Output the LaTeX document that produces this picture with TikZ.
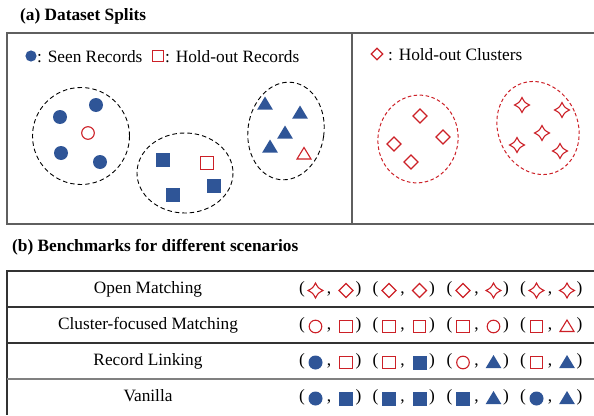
\documentclass[tikz,border=0pt]{standalone}
\usepackage{fontspec}
\setmainfont{Liberation Serif}
\definecolor{myblue}{RGB}{47,85,151}
\definecolor{myred}{RGB}{204,32,39}
\definecolor{framegray}{RGB}{95,95,95}
\tikzset{
  txt/.style={inner sep=0pt, font=\fontsize{17.3}{20}\selectfont},
  ttl/.style={inner sep=0pt, font=\fontsize{17.3}{20}\selectfont\bfseries},
  frame/.style={draw=framegray, line width=1.3pt},
  tline/.style={draw=black!80, line width=1.1pt},
  tline2/.style={draw=black!50, line width=1.8pt},
  bdash/.style={draw=black, line width=0.9pt, dash pattern=on 4.5pt off 3pt},
  rdash/.style={draw=myred, line width=1pt, dash pattern=on 3.5pt off 2.5pt},
  bcirc/.pic={\fill[myblue] (0,0) circle (7);},
  rcirc/.pic={\draw[myred, line width=1.1pt] (0,0) circle (6.3);},
  bsq/.pic={\fill[myblue] (-7,-7) rectangle (7,7);},
  rsq/.pic={\draw[myred, line width=1.1pt] (-6.3,-6.3) rectangle (6.3,6.3);},
  btri/.pic={\fill[myblue] (0,-7.5) -- (7.8,5.5) -- (-7.8,5.5) -- cycle;},
  rtri/.pic={\draw[myred, line width=1.1pt, line join=miter] (0,-6.5) -- (7,5) -- (-7,5) -- cycle;},
  rdia/.pic={\draw[myred, line width=1.1pt] (0,-7) -- (7,0) -- (0,7) -- (-7,0) -- cycle;},
  rstar/.pic={\draw[myred, line width=1.1pt, line join=miter] (0,-7.5) .. controls (2.6,-2.6) .. (7.5,0) .. controls (2.6,2.6) .. (0,7.5) .. controls (-2.6,2.6) .. (-7.5,0) .. controls (-2.6,-2.6) .. (0,-7.5) -- cycle;},
}
\newcommand\grp[4]{%
  \node[txt, anchor=base] (po-#1-#2) at (#1, #2+4.5) {(};
  \pic at (#1+13.5, #2+1.5) {#3};
  \node[txt, anchor=base] (cm-#1-#2) at (#1+27, #2+4.5) {,};
  \pic at (#1+44, #2+1.5) {#4};
  \node[txt, anchor=base] (pc-#1-#2) at (#1+56.5, #2+4.5) {)};
}
\begin{document}
\begin{tikzpicture}[x=1pt, y=-1pt]
\useasboundingbox (0,0) rectangle (594,415);
% titles
\node[ttl, anchor=base west] (ta) at (20,20) {(a) Dataset Splits};
\node[ttl, anchor=base west] (tb) at (12,251) {(b) Benchmarks for different scenarios};
% panel (a) frame
\draw[frame] (594,33) -- (7,33) -- (7,224) -- (594,224);
\draw[frame] (352,33) -- (352,224);
% legends
\pic[scale=0.8] at (31,56) {bcirc};
\node[txt, anchor=base west] (lg1) at (37,62) {: Seen Records};
\pic[scale=0.82] at (158,56) {rsq};
\node[txt, anchor=base west] (lg2) at (165,62) {: Hold-out Records};
\pic[scale=0.82] at (377,54) {rdia};
\node[txt, anchor=base west] (lg3) at (388,60) {: Hold-out Clusters};
% cluster 1
\draw[bdash] (81,136) ellipse (48.5 and 48.5);
\pic at (60,117) {bcirc};
\pic at (96,105) {bcirc};
\pic at (61,153) {bcirc};
\pic at (100,162) {bcirc};
\pic at (88,133) {rcirc};
% cluster 2
\draw[bdash] (185,173) ellipse (48 and 40);
\pic at (163,160) {bsq};
\pic at (173,195) {bsq};
\pic at (214,186) {bsq};
\pic at (207,163) {rsq};
% cluster 3
\draw[bdash, rotate around={-8:(286,131)}] (286,131) ellipse (38 and 49);
\pic at (265,104) {btri};
\pic at (300,113) {btri};
\pic at (285,133) {btri};
\pic at (270,147) {btri};
\pic at (304,154) {rtri};
% hold-out cluster 1
\draw[rdash, rotate around={-10:(418,139)}] (418,139) ellipse (40 and 44);
\pic at (420,116) {rdia};
\pic at (394,144) {rdia};
\pic at (443,137) {rdia};
\pic at (411,162) {rdia};
% hold-out cluster 2
\draw[rdash, rotate around={22:(538,128)}] (538,128) ellipse (40 and 47.5);
\pic at (522,105) {rstar};
\pic at (562,110) {rstar};
\pic at (542,133) {rstar};
\pic at (517,145) {rstar};
\pic at (560,151) {rstar};
% table
\draw[tline] (594,271) -- (7,271) -- (7,415);
\draw[tline] (7,307) -- (594,307);
\draw[tline] (7,343) -- (594,343);
\draw[tline2] (7,379) -- (594,379);
\node[txt, anchor=base] (r1) at (148,293.5) {Open Matching};
\node[txt, anchor=base] (r2) at (148,329.5) {Cluster-focused Matching};
\node[txt, anchor=base] (r3) at (148,365.5) {Record Linking};
\node[txt, anchor=base] (r4) at (148,401.5) {Vanilla};
% row 1
\grp{302}{289}{rstar}{rdia}
\grp{375.5}{289}{rdia}{rdia}
\grp{449.5}{289}{rdia}{rstar}
\grp{523}{289}{rstar}{rstar}
% row 2
\grp{302}{325}{rcirc}{rsq}
\grp{375.5}{325}{rsq}{rsq}
\grp{449.5}{325}{rsq}{rcirc}
\grp{523}{325}{rsq}{rtri}
% row 3
\grp{302}{361}{bcirc}{rsq}
\grp{375.5}{361}{rsq}{bsq}
\grp{449.5}{361}{rcirc}{btri}
\grp{523}{361}{rsq}{btri}
% row 4
\grp{302}{397}{bcirc}{bsq}
\grp{375.5}{397}{bsq}{bsq}
\grp{449.5}{397}{bsq}{btri}
\grp{523}{397}{bcirc}{btri}
\end{tikzpicture}
\end{document}
